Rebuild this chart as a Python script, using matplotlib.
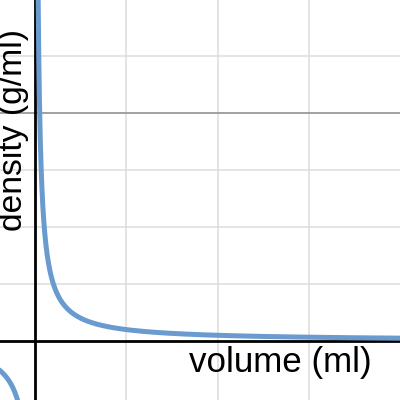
import numpy as np
import matplotlib
matplotlib.use("Agg")
import matplotlib.pyplot as plt

# graph window (data units) and grid
X_RANGE = (-0.385, 4.0)
Y_RANGE = (-1.035, 5.982)
X_MINOR = [1, 2, 3]
Y_MINOR = [1, 2, 3, 5]
Y_MAJOR = [4]

# density = mass / volume, mass
MASS = 0.2

X_LABEL = "volume (ml)"
Y_LABEL = "density (g/ml)"

C = {
    "curve": "#6a9bcf",
    "minor": "#dcdcdc",
    "major": "#9a9a9a",
    "axis": "black",
}

plt.rcParams["font.family"] = ["Liberation Sans", "DejaVu Sans"]

fig = plt.figure(figsize=(4, 4), dpi=100)
ax = fig.add_axes([0, 0, 1, 1])
ax.set_xlim(*X_RANGE)
ax.set_ylim(*Y_RANGE)
ax.axis("off")

for x in X_MINOR:
    ax.axvline(x, color=C["minor"], lw=1.1, zorder=1)
for y in Y_MINOR:
    ax.axhline(y, color=C["minor"], lw=1.1, zorder=1)
for y in Y_MAJOR:
    ax.axhline(y, color=C["major"], lw=1.3, zorder=1)

ax.axvline(0, color=C["axis"], lw=2.0, zorder=2)
ax.axhline(0, color=C["axis"], lw=2.0, zorder=2)

v_pos = np.geomspace(1e-3, 4.5, 800)
v_neg = -np.geomspace(1e-3, 0.6, 400)
ax.plot(v_pos, MASS / v_pos, color=C["curve"], lw=3.6, zorder=3,
        solid_capstyle="round")
ax.plot(v_neg, MASS / v_neg, color=C["curve"], lw=3.6, zorder=3,
        solid_capstyle="round")

fig.text(372 / 400, 1 - 372 / 400, X_LABEL, fontsize=25.2, ha="right",
         va="baseline", color="black")
fig.text(22 / 400, 1 - 231 / 400, Y_LABEL, fontsize=24.2, rotation=90,
         rotation_mode="anchor", ha="left", va="baseline", color="black")

fig.savefig("out.png", dpi=100)
